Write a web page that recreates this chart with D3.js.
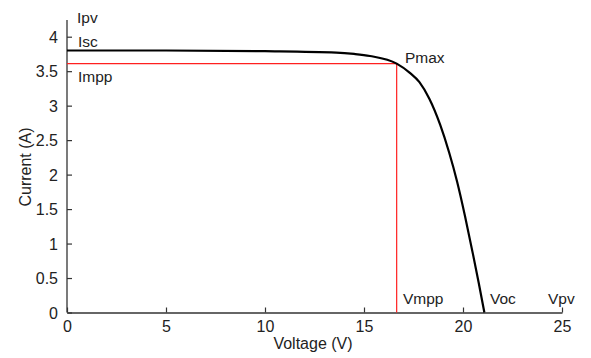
<!DOCTYPE html>
<html>
<head>
<meta charset="utf-8">
<script src="https://cdn.jsdelivr.net/npm/d3@7"></script>
<style>
  body { margin: 0; background: #fff; }
  svg { font-family: "Liberation Sans", Arial, sans-serif; }
</style>
</head>
<body>
<svg id="chart"></svg>
<script>
// I-V curve of the PV module
const voltage = [0, 5, 10, 13.6, 14.5, 15.3, 16.65, 17.3, 17.8, 18.3, 18.85, 19.3, 19.7, 20.1, 20.5, 20.8, 21.08];
const current = [3.8, 3.8, 3.79, 3.77, 3.75, 3.72, 3.61, 3.48, 3.34, 3.1, 2.72, 2.32, 1.9, 1.4, 0.85, 0.42, 0];

const xTicks = [0, 5, 10, 15, 20, 25];
const yTicks = [0, 0.5, 1, 1.5, 2, 2.5, 3, 3.5, 4];

const impp = 3.61, vmpp = 16.65;

const width = 591, height = 358;
const margin = { top: 20, left: 67 };

const svg = d3.select("#chart")
  .attr("width", width)
  .attr("height", height);

const x = d3.scaleLinear().domain([0, 25]).range([margin.left, 562]);
const y = d3.scaleLinear().domain([0, 4]).range([312.5, 36.7]);

const ink = "#222";
const fmt = d3.format("~g");

// axes (MATLAB style: ticks pointing inward, no box)
const xAxis = svg.append("g")
  .attr("transform", `translate(0,${y(0)})`)
  .call(d3.axisBottom(x).tickValues(xTicks).tickFormat(fmt).tickSizeInner(-5).tickSizeOuter(0).tickPadding(8));

const yAxis = svg.append("g")
  .attr("transform", `translate(${x(0)},0)`)
  .call(d3.axisLeft(y).tickValues(yTicks).tickFormat(fmt).tickSizeInner(-5).tickSizeOuter(0).tickPadding(9));

yAxis.select(".domain").attr("d", `M0,${y(0)}V${margin.top}`);

[xAxis, yAxis].forEach(g => {
  g.select(".domain").attr("stroke", "#333").attr("stroke-width", 1.3);
  g.selectAll(".tick line").attr("stroke", "#333").attr("stroke-width", 1.2);
  g.selectAll(".tick text").attr("fill", ink).style("font-size", "16px")
    .style("font-family", "'Liberation Sans', Arial, sans-serif");
});
yAxis.selectAll(".tick text").attr("dy", "0.36em");

// red max power point guides
svg.append("path")
  .attr("d", `M${x(0)},${y(impp)}H${x(vmpp)}V${y(0)}`)
  .attr("fill", "none")
  .attr("stroke", "#ff2020")
  .attr("stroke-width", 1.2);

// I-V curve
const points = voltage.map((v, i) => [v, current[i]]);
svg.append("path")
  .datum(points)
  .attr("fill", "none")
  .attr("stroke", "#000")
  .attr("stroke-width", 2.2)
  .attr("d", d3.line().x(d => x(d[0])).y(d => y(d[1])).curve(d3.curveMonotoneX));

// annotations
const labels = [
  { t: "Ipv",  px: 77,  py: 23 },
  { t: "Isc",  px: 78,  py: 47 },
  { t: "Impp", px: 78,  py: 82 },
  { t: "Pmax", px: 405, py: 63 },
  { t: "Vmpp", px: 403, py: 304 },
  { t: "Voc",  px: 490, py: 304 },
  { t: "Vpv",  px: 548, py: 304 }
];
svg.append("g").selectAll("text")
  .data(labels)
  .join("text")
  .attr("x", d => d.px)
  .attr("y", d => d.py)
  .attr("fill", ink)
  .style("font-size", "15.5px")
  .text(d => d.t);

svg.append("text")
  .attr("x", 313)
  .attr("y", 349)
  .attr("text-anchor", "middle")
  .attr("fill", ink)
  .style("font-size", "16px")
  .text("Voltage (V)");

svg.append("text")
  .attr("transform", `translate(31,167) rotate(-90)`)
  .attr("text-anchor", "middle")
  .attr("fill", ink)
  .style("font-size", "16px")
  .text("Current (A)");
</script>
</body>
</html>
